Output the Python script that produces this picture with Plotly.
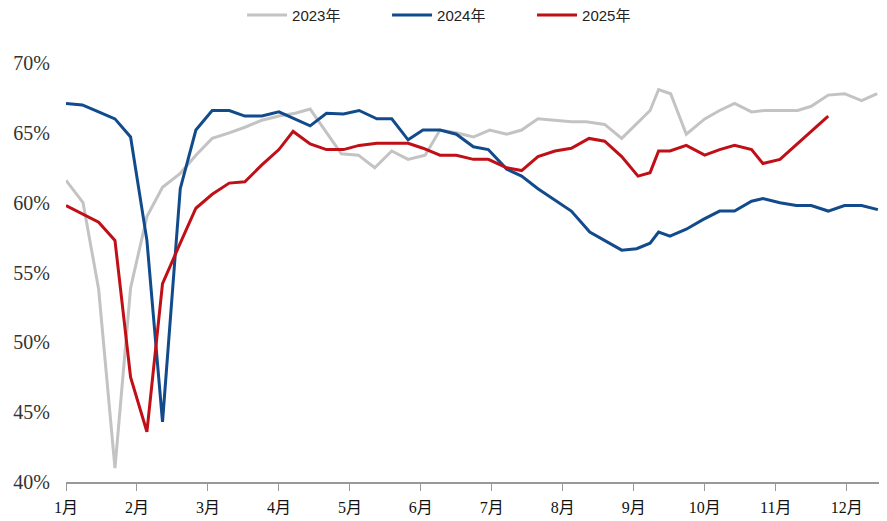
import plotly.graph_objects as go

# x positions in month units (0 = 1月 start, 11 = 12月 start)
x_2023 = [0.00, 0.24, 0.46, 0.69, 0.91, 1.14, 1.36, 1.61, 1.83, 2.06, 2.30, 2.52, 2.76, 3.00,
          3.23, 3.44, 3.88, 4.12, 4.35, 4.59, 4.82, 5.06, 5.27, 5.50, 5.74, 5.97, 6.21, 6.42,
          6.65, 6.89, 7.12, 7.33, 7.59, 7.83, 8.23, 8.35, 8.52, 8.74, 9.00, 9.21, 9.42, 9.66,
          9.85, 10.10, 10.31, 10.50, 10.74, 10.97, 11.21, 11.43]
y_2023 = [61.6, 60.0, 53.8, 41.0, 53.9, 59.0, 61.1, 62.1, 63.4, 64.6, 65.0, 65.4, 65.9, 66.2,
          66.4, 66.7, 63.5, 63.4, 62.5, 63.7, 63.1, 63.4, 65.2, 65.0, 64.7, 65.2, 64.9, 65.2,
          66.0, 65.9, 65.8, 65.8, 65.6, 64.6, 66.6, 68.1, 67.8, 64.9, 66.0, 66.6, 67.1, 66.5,
          66.6, 66.6, 66.6, 66.9, 67.7, 67.8, 67.3, 67.8]

x_2024 = [0.00, 0.23, 0.46, 0.69, 0.91, 1.14, 1.36, 1.61, 1.83, 2.06, 2.30, 2.52, 2.76, 3.00,
          3.44, 3.67, 3.91, 4.13, 4.38, 4.59, 4.82, 5.03, 5.27, 5.50, 5.74, 5.95, 6.21, 6.42,
          6.65, 6.89, 7.12, 7.38, 7.59, 7.83, 8.04, 8.23, 8.35, 8.51, 8.74, 8.98, 9.21, 9.42,
          9.66, 9.82, 10.06, 10.29, 10.50, 10.74, 10.97, 11.21, 11.44]
y_2024 = [67.1, 67.0, 66.5, 66.0, 64.7, 57.3, 44.3, 61.0, 65.2, 66.6, 66.6, 66.2, 66.2, 66.5,
          65.5, 66.4, 66.35, 66.6, 66.0, 66.0, 64.5, 65.2, 65.2, 64.9, 64.0, 63.8, 62.4, 61.9,
          61.0, 60.2, 59.4, 57.9, 57.3, 56.6, 56.7, 57.1, 57.9, 57.6, 58.1, 58.8, 59.4, 59.4,
          60.1, 60.3, 60.0, 59.8, 59.8, 59.4, 59.8, 59.8, 59.5]

x_2025 = [0.00, 0.24, 0.46, 0.69, 0.91, 1.14, 1.36, 1.61, 1.83, 2.06, 2.30, 2.52, 2.76, 3.00,
          3.20, 3.44, 3.67, 3.91, 4.13, 4.38, 4.59, 4.82, 5.03, 5.27, 5.50, 5.74, 5.95, 6.21,
          6.42, 6.65, 6.89, 7.12, 7.37, 7.59, 7.83, 8.06, 8.23, 8.35, 8.51, 8.74, 9.00, 9.21,
          9.42, 9.66, 9.82, 10.06, 10.74]
y_2025 = [59.8, 59.2, 58.6, 57.3, 47.5, 43.6, 54.2, 57.1, 59.6, 60.6, 61.4, 61.5, 62.7, 63.8,
          65.1, 64.2, 63.8, 63.8, 64.1, 64.25, 64.25, 64.25, 63.9, 63.4, 63.4, 63.1, 63.1, 62.5,
          62.3, 63.3, 63.7, 63.9, 64.6, 64.4, 63.3, 61.9, 62.15, 63.7, 63.7, 64.1, 63.4, 63.8,
          64.1, 63.8, 62.8, 63.1, 66.2]

month_ticks = list(range(12))
month_labels = ["1月", "2月", "3月", "4月", "5月", "6月", "7月", "8月", "9月", "10月", "11月", "12月"]
y_ticks = [40, 45, 50, 55, 60, 65, 70]
y_labels = ["40%", "45%", "50%", "55%", "60%", "65%", "70%"]

fig = go.Figure()
fig.add_trace(go.Scatter(x=x_2023, y=y_2023, mode="lines", name="2023年",
                         line=dict(color="#C3C3C3", width=3)))
fig.add_trace(go.Scatter(x=x_2024, y=y_2024, mode="lines", name="2024年",
                         line=dict(color="#124B8C", width=3)))
fig.add_trace(go.Scatter(x=x_2025, y=y_2025, mode="lines", name="2025年",
                         line=dict(color="#C00F16", width=3)))

serif = "Liberation Serif, Noto Sans CJK SC, serif"
fig.update_layout(
    width=879, height=513,
    margin=dict(l=58, r=2, t=55, b=39, autoexpand=False),
    paper_bgcolor="white", plot_bgcolor="white",
    showlegend=True,
    legend=dict(orientation="h", xref="container", x=0.5137, xanchor="center",
                yref="container", y=0.986, yanchor="middle",
                font=dict(family="Liberation Sans, Noto Sans CJK SC", size=15, color="#222"),
                traceorder="normal", itemwidth=40, entrywidth=90),
    xaxis=dict(range=[0, 11.54], tickmode="array", tickvals=month_ticks, ticktext=month_labels,
               showgrid=False, zeroline=False, showline=True, linecolor="#999", linewidth=1.5,
               ticks="outside", ticklen=7, tickcolor="#999", ticklabelstandoff=3,
               tickfont=dict(family=serif, size=16, color="#111")),
    yaxis=dict(range=[40, 70], tickmode="array", tickvals=y_ticks, ticktext=y_labels,
               showgrid=False, zeroline=False, showline=False, ticks="",
               ticklabelstandoff=15,
               tickfont=dict(family=serif, size=20, color="#333")),
)
fig.write_html("out.html")
